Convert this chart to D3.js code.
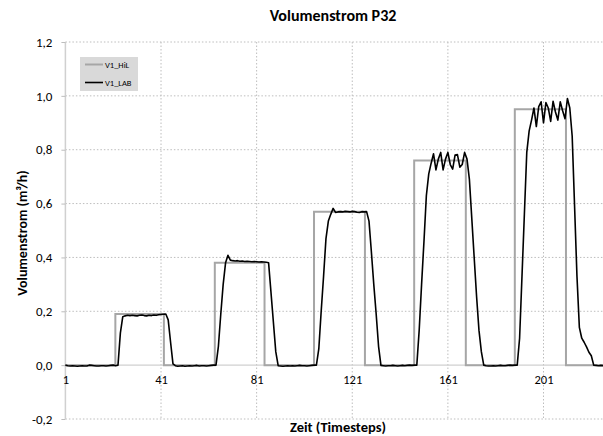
<!DOCTYPE html>
<html>
<head>
<meta charset="utf-8">
<script src="https://cdn.jsdelivr.net/npm/d3@7"></script>
<style>
  html, body { margin: 0; padding: 0; background: #fff; }
  svg { display: block; font-family: Carlito, Lato, "Open Sans", sans-serif; }
</style>
</head>
<body>
<svg id="chart" width="603" height="436"></svg>
<script>
// Measured flow of V1 on the lab rig, one value per timestep (starting at timestep 1)
const labValues = [
  0, -0.002, -0.003, -0.002, -0.003, -0.004, -0.003, -0.002, -0.003, -0.003, 0, -0.001, -0.002, -0.003, -0.003, -0.002, -0.002, -0.003, -0.002, -0.001, 0, -0.002,
  0, 0.12, 0.18, 0.183, 0.185, 0.184, 0.185, 0.184, 0.183, 0.185, 0.186, 0.184, 0.183, 0.185, 0.184, 0.186, 0.185, 0.187, 0.188, 0.189, 0.19, 0.168, 0.085, 0.005,
  -0.002, -0.004, -0.003, -0.002, -0.004, -0.003, -0.002, -0.003, -0.002, -0.001, -0.003, -0.002, -0.002, -0.003, -0.002, -0.001, 0, 0,
  0.07, 0.19, 0.3, 0.38, 0.408, 0.39, 0.388, 0.387, 0.388, 0.386, 0.387, 0.385, 0.386, 0.385, 0.384, 0.385, 0.384, 0.383, 0.384, 0.383, 0.382, 0.38, 0.27, 0.16, 0.05, -0.002,
  -0.003, -0.004, -0.003, -0.002, -0.003, -0.002, -0.003, -0.002, -0.001, -0.002, -0.002, -0.003, -0.002, -0.001, 0, 0,
  0.06, 0.2, 0.33, 0.47, 0.535, 0.56, 0.582, 0.567, 0.569, 0.570, 0.569, 0.571, 0.570, 0.569, 0.571, 0.570, 0.568, 0.567, 0.570, 0.569, 0.570, 0.535, 0.42, 0.3, 0.19, 0.07, -0.001,
  -0.002, -0.003, -0.002, -0.002, -0.001, -0.002, -0.003, -0.002, -0.001, -0.002, -0.001, 0, -0.001, 0, 0,
  0.13, 0.3, 0.46, 0.63, 0.71, 0.75, 0.785, 0.725, 0.765, 0.79, 0.725, 0.765, 0.79, 0.745, 0.728, 0.78, 0.782, 0.735, 0.745, 0.79, 0.765, 0.69, 0.545, 0.4, 0.256, 0.13, 0.05, 0,
  -0.002, -0.003, -0.003, -0.002, -0.003, -0.002, -0.001, -0.002, -0.002, -0.001, 0, -0.001, 0, 0,
  0.1, 0.33, 0.56, 0.79, 0.87, 0.91, 0.955, 0.886, 0.96, 0.978, 0.9, 0.975, 0.955, 0.905, 0.98, 0.94, 0.91, 0.978, 0.945, 0.915, 0.99, 0.955, 0.85, 0.59, 0.33, 0.14, 0.1, 0.085, 0.068, 0.048, 0.035, 0,
  -0.001, -0.002, -0.001, -0.002
];

// Set-point flow of V1 in the HiL simulation: timestep where each level starts, and the level
const hilSteps  = [1, 21.9, 42.2, 63.5, 84.3, 105, 126.3, 146.9, 168.5, 189, 210.4, 226];
const hilLevels = [0, 0.19, 0,    0.38, 0,    0.57, 0,    0.76,  0,     0.95, 0,   0];

const xTicks = [1, 41, 81, 121, 161, 201];
const yTicks = [-0.2, 0, 0.2, 0.4, 0.6, 0.8, 1.0, 1.2];
const yTickLabels = ["-0,2", "0,0", "0,2", "0,4", "0,6", "0,8", "1,0", "1,2"];

const seriesNames = ["V1_HiL", "V1_LAB"];
const seriesColors = ["#a6a6a6", "#000000"];

const font = "Carlito, Lato, 'Open Sans', sans-serif";
const svg = d3.select("#chart");

const x = d3.scaleLinear().domain([1, 201]).range([65.4, 543.5]);
const y = d3.scaleLinear().domain([-0.2, 1.2]).range([419, 42]);
const plotRight = 603;

// Grid
const grid = svg.append("g");
grid.selectAll("line.h").data(yTicks.filter(v => v !== 0)).join("line")
  .attr("x1", x(1)).attr("x2", plotRight)
  .attr("y1", d => y(d)).attr("y2", d => y(d))
  .attr("stroke", "#bdbdbd").attr("stroke-width", 1).attr("stroke-dasharray", "1.5,2");
grid.selectAll("line.v").data(xTicks.slice(1)).join("line")
  .attr("x1", d => x(d)).attr("x2", d => x(d))
  .attr("y1", y(1.2)).attr("y2", y(-0.2))
  .attr("stroke", "#bdbdbd").attr("stroke-width", 1).attr("stroke-dasharray", "1.5,2");

// Axis lines
svg.append("line").attr("x1", x(1)).attr("x2", plotRight).attr("y1", y(0)).attr("y2", y(0))
  .attr("stroke", "#d0d0d0").attr("stroke-width", 1.2);
svg.append("line").attr("x1", x(1)).attr("x2", x(1)).attr("y1", y(1.2)).attr("y2", y(-0.2))
  .attr("stroke", "#d0d0d0").attr("stroke-width", 1.5);

// Y axis ticks and labels
const yAxis = d3.axisLeft(y).tickValues(yTicks).tickSize(4).tickPadding(9)
  .tickFormat((d, i) => yTickLabels[i]);
const gy = svg.append("g").attr("transform", `translate(${x(1)},0)`).call(yAxis);
gy.select(".domain").remove();
gy.selectAll(".tick line").attr("stroke", "#bdbdbd");
gy.selectAll(".tick text").attr("fill", "#000").style("font-size", "13px").style("font-family", font);

// X tick labels sit just under the zero line
const xAxis = d3.axisBottom(x).tickValues(xTicks).tickSize(0).tickPadding(10)
  .tickFormat(d3.format("d"));
const gx = svg.append("g").attr("transform", `translate(0,${y(0)})`).call(xAxis);
gx.select(".domain").remove();
gx.selectAll(".tick text").attr("fill", "#000").style("font-size", "12.5px").style("font-family", font);

// Series
const hilPts = hilSteps.map((s, i) => [s, hilLevels[i]]);
const labPts = labValues.map((v, i) => [i + 1, v]);

svg.append("path").datum(hilPts)
  .attr("fill", "none").attr("stroke", seriesColors[0]).attr("stroke-width", 2)
  .attr("d", d3.line().x(d => x(d[0])).y(d => y(d[1])).curve(d3.curveStepAfter));

svg.append("path").datum(labPts)
  .attr("fill", "none").attr("stroke", seriesColors[1]).attr("stroke-width", 1.6)
  .attr("stroke-linejoin", "round")
  .attr("d", d3.line().x(d => x(d[0])).y(d => y(d[1])));

// Legend
const legend = svg.append("g").attr("transform", "translate(80,57)");
legend.append("rect").attr("width", 58).attr("height", 34).attr("fill", "#d9d9d9");
seriesNames.forEach((name, i) => {
  const cy = 7.5 + i * 18;
  legend.append("line").attr("x1", 5).attr("x2", 23).attr("y1", cy).attr("y2", cy)
    .attr("stroke", seriesColors[i]).attr("stroke-width", i === 0 ? 2 : 1.6);
  legend.append("text").attr("x", 25).attr("y", cy + 3).text(name)
    .style("font-size", "8.5px").attr("fill", "#000");
});

// Titles
svg.append("text").attr("x", 333).attr("y", 21).attr("text-anchor", "middle")
  .style("font-size", "16px").style("font-weight", "bold").text("Volumenstrom P32");
svg.append("text").attr("transform", "translate(27,233) rotate(-90)").attr("text-anchor", "middle")
  .style("font-size", "14px").style("font-weight", "bold").text("Volumenstrom (m³/h)");
svg.append("text").attr("x", 338).attr("y", 432).attr("text-anchor", "middle")
  .style("font-size", "14.5px").style("font-weight", "bold").text("Zeit (Timesteps)");
</script>
</body>
</html>
